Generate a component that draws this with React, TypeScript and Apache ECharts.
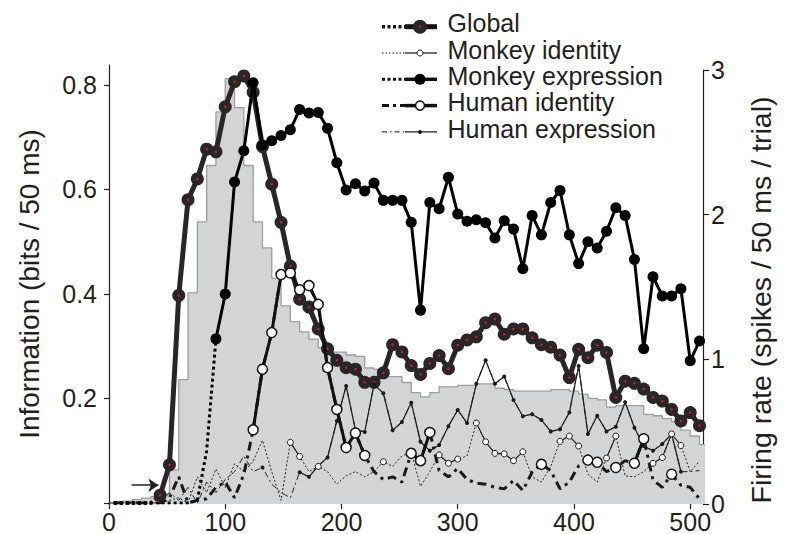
import React, { useEffect, useRef } from 'react';
import * as echarts from 'echarts';

// time of each analysis bin start (ms)
const timeMs = [4,12,20,28,36,44,52,60,68,76,84,92,100,108,116,124,132,140,148,156,164,172,180,188,196,204,212,220,228,236,244,252,260,268,276,284,292,300,308,316,324,332,340,348,356,364,372,380,388,396,404,412,420,428,436,444,452,460,468,476,484,492,500,508];
const binEndMs = 516;

// information (bits / 50 ms)
const globalInfo = [0,0,0,0,0,0.015,0.073,0.397,0.58,0.62,0.677,0.672,0.758,0.806,0.817,0.786,0.682,0.61,0.537,0.453,0.39,0.375,0.333,0.295,0.273,0.259,0.256,0.231,0.231,0.249,0.303,0.289,0.263,0.246,0.267,0.282,0.257,0.302,0.312,0.318,0.345,0.352,0.323,0.333,0.333,0.316,0.303,0.298,0.283,0.24,0.294,0.278,0.302,0.288,0.202,0.233,0.229,0.218,0.202,0.195,0.179,0.157,0.173,0.148];
const monkeyExpression = [0,0,0,0,0,0,0,0,0,0.005,0.1,0.314,0.40,0.614,0.674,0.804,0.685,0.693,0.703,0.714,0.753,0.746,0.747,0.717,0.651,0.599,0.611,0.597,0.612,0.579,0.579,0.579,0.537,0.369,0.575,0.563,0.623,0.553,0.539,0.542,0.536,0.507,0.54,0.524,0.448,0.55,0.513,0.575,0.598,0.513,0.458,0.50,0.488,0.52,0.565,0.55,0.466,0.295,0.433,0.396,0.396,0.41,0.272,0.31];
const humanIdentity = [0,0,0,0,0,0,0.01,0.05,0,0.005,0.008,0.03,0.04,0.01,0.055,0.14,0.256,0.326,0.437,0.44,0.408,0.416,0.38,0.259,0.179,0.106,0.134,0.091,0.06,0.045,0.05,0.04,0.095,0.081,0.135,0.062,0.05,0.066,0.045,0.038,0.036,0.03,0.027,0.043,0.024,0.059,0.074,0.062,0.027,0.04,0.071,0.082,0.078,0.06,0.068,0.081,0.076,0.123,0.044,0.03,0.055,0.034,0.03,0.008];
const monkeyIdentity = [0,0,0,0,0,0,0.005,0.01,0,0.05,0.02,0.065,0.03,0.075,0.06,0.08,0.12,0.06,0.005,0.116,0.089,0.06,0.07,0.06,0.036,0.052,0.06,0.05,0.06,0.079,0.07,0.09,0.097,0.032,0.06,0.092,0.076,0.084,0.09,0.153,0.117,0.095,0.094,0.081,0.098,0.05,0.04,0.07,0.118,0.128,0.109,0.055,0.04,0.086,0.128,0.052,0.05,0.06,0.076,0.087,0.132,0.11,0.06,0.08];
const humanExpression = [0,0,0,0,0,0,0.02,0.005,0.03,0,0.04,0.02,0.045,0.06,0.09,0.06,0.068,0.036,0.02,0.01,0.059,0.05,0.071,0.087,0.157,0.224,0.14,0.136,0.227,0.21,0.139,0.155,0.192,0.117,0.1,0.111,0.147,0.178,0.153,0.228,0.273,0.228,0.242,0.197,0.166,0.17,0.159,0.137,0.141,0.173,0.262,0.132,0.167,0.137,0.146,0.193,0.144,0.109,0.1,0.113,0.132,0.06,0.06,0.062];

// firing rate histogram (spikes / 50 ms / trial)
const firingRate = [0.015,0.02,0.03,0.04,0.05,0.07,0.236,0.86,1.46,1.95,2.34,2.71,2.94,2.74,2.34,1.95,1.77,1.56,1.37,1.26,1.19,1.14,1.08,1.05,1.05,1.03,1.02,0.94,0.93,0.88,0.88,0.84,0.77,0.74,0.77,0.81,0.81,0.82,0.82,0.83,0.83,0.8,0.79,0.78,0.78,0.78,0.78,0.79,0.79,0.78,0.76,0.73,0.72,0.67,0.68,0.68,0.68,0.62,0.61,0.59,0.57,0.51,0.47,0.41];

// significant (solid) portions
const globalSolidStart = 5;
const monkeyExpressionSolidStart = 11;
const humanIdentitySig = [15,16,17,18,19,20,21,22,23,24,25,26,27,32,33,34,46,51,52,54,56,57,60];
const monkeyIdentitySig = [19,20,22,29,32,35,36,37,39,40,41,42,43,44,48,49,50,53,54,58,59,60,61];
const humanExpressionSig = [16,20,21,22,23,24,25,26,27,28,29,30,31,32,33,34,35,36,37,38,39,40,41,42,43,44,45,46,47,48,49,50,51,52,53,54,55,56,57,58,59,60,61];

// arrow annotation (ms, bits)
const arrowFrom = 19.5;
const arrowTo = 42.5;
const arrowLevel = 0.034;

const legendNames = ['Global', 'Monkey identity', 'Monkey expression', 'Human identity', 'Human expression'];
const xTicks = [0, 100, 200, 300, 400, 500];
const leftTicks = [0, 0.2, 0.4, 0.6, 0.8];
const leftLabels = [0.2, 0.4, 0.6, 0.8];
const leftTitle = 'Information (bits / 50 ms)';
const rightTitle = 'Firing rate (spikes / 50 ms / trial)';

const FONT = "'Liberation Sans', Arial, Helvetica, sans-serif";
const INK = '#231f20';

const pairs = (vals: number[], keep: (i: number) => boolean) =>
  timeMs.map((t, i) => [t, keep(i) ? vals[i] : '-']);

export default function App() {
  const ref = useRef<HTMLDivElement>(null);

  useEffect(() => {
    if (!ref.current) return;
    const chart = echarts.init(ref.current, undefined, { renderer: 'svg' });

    const histData = timeMs.map((t, i) => [t, firingRate[i]]);
    histData.push([binEndMs, firingRate[firingRate.length - 1]]);

    const inSet = (s: number[]) => (i: number) => s.indexOf(i) >= 0;

    const base = { type: 'line', silent: true, xAxisIndex: 0, yAxisIndex: 0, showAllSymbol: true, connectNulls: false };

    const series: any[] = [
      {
        type: 'line', silent: true, xAxisIndex: 1, yAxisIndex: 1, step: 'end', z: 1,
        data: histData, symbol: 'none',
        lineStyle: { color: '#9d9d9f', width: 1.3 },
        areaStyle: { color: '#d3d4d6', opacity: 1 },
      },
      // non-significant (dotted / dash-dot) traces
      { ...base, z: 3, symbol: 'none', data: pairs(monkeyIdentity, () => true), lineStyle: { color: '#222', width: 1, type: [2, 2] } },
      { ...base, z: 3, symbol: 'none', data: pairs(humanExpression, () => true), lineStyle: { color: '#222', width: 1, type: [6, 3, 2, 3] } },
      { ...base, z: 3, symbol: 'none', data: pairs(humanIdentity, () => true), lineStyle: { color: '#1a1a1a', width: 3, type: [9, 5, 3, 5] } },
      { ...base, z: 3, symbol: 'none', data: pairs(globalInfo, (i) => i <= globalSolidStart), lineStyle: { color: INK, width: 4, type: [3.5, 2.5] } },
      { ...base, z: 3, symbol: 'none', data: pairs(monkeyExpression, (i) => i <= monkeyExpressionSolidStart), lineStyle: { color: '#000', width: 3, type: [3, 3] } },
      // significant traces
      {
        ...base, z: 4, symbol: 'circle', symbolSize: 13,
        data: pairs(globalInfo, (i) => i >= globalSolidStart),
        lineStyle: { color: '#2a2526', width: 5 },
        itemStyle: { color: '#2a2526' },
        markLine: {
          silent: true, symbol: ['none', 'arrow'], symbolSize: 10,
          lineStyle: { color: INK, width: 1.5, type: 'solid' },
          label: { show: false },
          data: [[{ coord: [arrowFrom, arrowLevel] }, { coord: [arrowTo, arrowLevel] }]],
        },
      },
      {
        type: 'scatter', silent: true, xAxisIndex: 0, yAxisIndex: 0, z: 5, symbolSize: 2.5,
        data: pairs(globalInfo, (i) => i >= globalSolidStart),
        itemStyle: { color: '#e3262b' },
      },
      {
        ...base, z: 6, symbol: 'circle', symbolSize: 11,
        data: pairs(monkeyExpression, (i) => i >= monkeyExpressionSolidStart),
        lineStyle: { color: '#000', width: 3 }, itemStyle: { color: '#000' },
      },
      {
        ...base, z: 7, symbol: 'circle', symbolSize: 4,
        data: pairs(humanExpression, inSet(humanExpressionSig)),
        lineStyle: { color: '#1a1a1a', width: 1.2 }, itemStyle: { color: '#1a1a1a' },
      },
      {
        ...base, z: 8, symbol: 'circle', symbolSize: 6,
        data: pairs(monkeyIdentity, inSet(monkeyIdentitySig)),
        lineStyle: { color: '#1a1a1a', width: 1.1 }, itemStyle: { color: '#fff', borderColor: '#1a1a1a', borderWidth: 1 },
      },
      {
        ...base, z: 9, symbol: 'circle', symbolSize: 10,
        data: pairs(humanIdentity, inSet(humanIdentitySig)),
        lineStyle: { color: '#111', width: 3 }, itemStyle: { color: '#fff', borderColor: '#111', borderWidth: 1.5 },
      },
    ];

    // legend drawn as graphics
    const legendStyles = [
      { dash: { lineWidth: 3.5, lineDash: [3, 2.5] }, solid: 5, r: 7, fill: '#2a2526', stroke: '#2a2526', bw: 0, red: true },
      { dash: { lineWidth: 1, lineDash: [1.5, 2] }, solid: 1.2, r: 3, fill: '#fff', stroke: '#1a1a1a', bw: 1, red: false },
      { dash: { lineWidth: 3, lineDash: [3, 2.5] }, solid: 3.5, r: 5.5, fill: '#000', stroke: '#000', bw: 0, red: false },
      { dash: { lineWidth: 3, lineDash: [7, 4, 3, 4] }, solid: 3.5, r: 4.5, fill: '#fff', stroke: '#111', bw: 1.5, red: false },
      { dash: { lineWidth: 1, lineDash: [5, 3, 1.5, 3] }, solid: 1.2, r: 2, fill: '#1a1a1a', stroke: '#1a1a1a', bw: 0, red: false },
    ];
    const graphic: any[] = [];
    legendNames.forEach((name, i) => {
      const ty = 23.4 + 26.3 * i;
      const sy = ty + 3.3;
      const s = legendStyles[i];
      graphic.push({ type: 'line', silent: true, shape: { x1: 382, y1: sy, x2: 405, y2: sy }, style: { stroke: '#111', lineWidth: s.dash.lineWidth, lineDash: s.dash.lineDash } });
      graphic.push({ type: 'line', silent: true, shape: { x1: 405, y1: sy, x2: 437, y2: sy }, style: { stroke: '#111', lineWidth: s.solid } });
      graphic.push({ type: 'circle', silent: true, shape: { cx: 420, cy: sy, r: s.r }, style: { fill: s.fill, stroke: s.stroke, lineWidth: s.bw } });
      if (s.red) graphic.push({ type: 'circle', silent: true, shape: { cx: 420, cy: sy, r: 1 }, style: { fill: '#e3262b' } });
      graphic.push({ type: 'text', silent: true, x: 447.5, y: ty, style: { text: name, fontSize: 25, fontFamily: FONT, fill: INK, align: 'left', verticalAlign: 'middle', lineHeight: 25 } });
    });
    // right axis title
    graphic.push({
      type: 'text', silent: true, x: 761, y: 300, rotation: Math.PI / 2,
      style: { text: rightTitle, fontSize: 28.5, fontFamily: FONT, fill: INK, align: 'center', verticalAlign: 'middle' },
    });

    const labelStyle = { fontSize: 25, fontFamily: FONT, color: INK };

    chart.setOption({
      animation: false,
      backgroundColor: '#fff',
      grid: [
        { left: 109, right: 83, top: 65, bottom: 30 },
        { left: 109, right: 83, top: 70, bottom: 30 },
      ],
      xAxis: [
        {
          type: 'value', gridIndex: 0, min: 0, max: 511,
          axisLine: { show: true, onZero: false, lineStyle: { color: '#555', width: 1.5, type: [5, 3] } },
          axisTick: { show: true, customValues: xTicks, length: 6, lineStyle: { color: INK, width: 1.2 } },
          axisLabel: { ...labelStyle, customValues: xTicks, margin: 6 },
          splitLine: { show: false },
        },
        { type: 'value', gridIndex: 1, min: 0, max: 511, show: false },
      ],
      yAxis: [
        {
          type: 'value', gridIndex: 0, position: 'left', min: 0, max: 0.838,
          name: leftTitle, nameLocation: 'middle', nameGap: 66, nameRotate: 90,
          nameTextStyle: { fontSize: 28, fontFamily: FONT, color: INK },
          axisLine: { show: true, onZero: false, lineStyle: { color: INK, width: 1.2 } },
          axisTick: { show: true, customValues: leftTicks, length: 5, lineStyle: { color: INK, width: 1.2 } },
          axisLabel: { ...labelStyle, customValues: leftLabels, margin: 12, formatter: (v: number) => v.toFixed(1) },
          splitLine: { show: false },
        },
        {
          type: 'value', gridIndex: 1, position: 'right', min: 0, max: 3, interval: 1,
          axisLine: { show: true, onZero: false, lineStyle: { color: INK, width: 1.2 } },
          axisTick: { show: true, length: 6, lineStyle: { color: INK, width: 1.2 } },
          axisLabel: { ...labelStyle, margin: 8 },
          splitLine: { show: false },
        },
      ],
      series,
      graphic,
    });

    return () => chart.dispose();
  }, []);

  return <div ref={ref} style={{ position: 'fixed', left: 0, top: 0, width: 786, height: 534 }} />;
}
